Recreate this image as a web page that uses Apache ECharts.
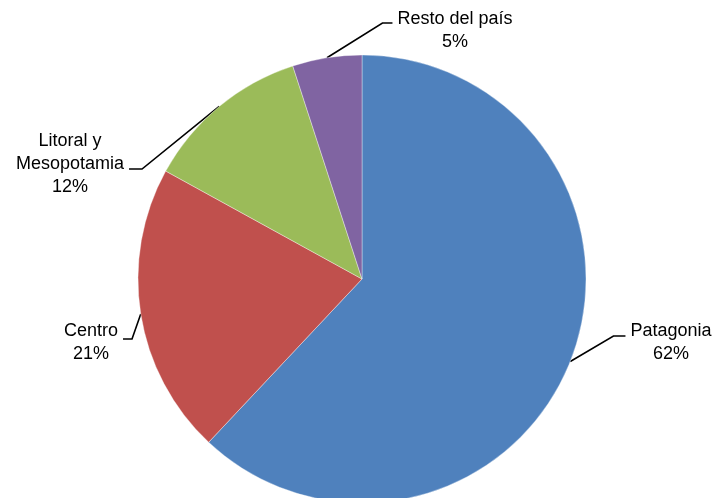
<!DOCTYPE html>
<html><head><meta charset="utf-8">
<script src="https://cdn.jsdelivr.net/npm/echarts@6/dist/echarts.min.js"></script>
<style>html,body{margin:0;padding:0;background:#fff}#c{width:717px;height:498px}</style>
</head><body><div id="c"></div>
<script>
const categories = ['Patagonia', 'Centro', 'Litoral y\nMesopotamia', 'Resto del país'];
const values = [62, 21, 12, 5];
const colors = ['#4F81BD', '#C0504D', '#9BBB59', '#8064A2'];
// label layout only: text centre, leader-line attach y, side of label the line meets (1 = left edge, -1 = right edge), horizontal tail length
const labelCenter = [[671, 343], [91, 343], [70, 164], [455, 31]];
const lineAttachY = [336, 339, 169, 23];
const lineSide = [1, -1, -1, 1];
const lineTail = [12, 9, 13, 10];
const lineGap = 5;

const chart = echarts.init(document.getElementById('c'), null, {renderer: 'canvas'});
chart.setOption({
  animation: false,
  series: [{
    type: 'pie',
    center: [362, 279],
    radius: 224,
    startAngle: 90,
    clockwise: true,
    data: categories.map((n, i) => ({name: n, value: values[i], itemStyle: {color: colors[i]}})),
    itemStyle: {borderColor: 'rgba(255,255,255,0.6)', borderWidth: 0.6},
    label: {
      show: true,
      position: 'outside',
      formatter: p => p.name + '\n' + p.value + '%',
      fontFamily: 'Liberation Sans, Arial, sans-serif',
      fontSize: 18,
      lineHeight: 23,
      color: '#000',
      align: 'center'
    },
    labelLine: {show: true, length: 30, length2: 12, lineStyle: {color: '#000', width: 1.6}},
    labelLayout: function (params) {
      const i = params.dataIndex;
      const c = labelCenter[i];
      const w = params.labelRect.width;
      const anchor = params.labelLinePoints ? params.labelLinePoints[0] : null;
      const s = lineSide[i];
      const endX = c[0] - s * (w / 2 + lineGap);
      const turnX = endX - s * lineTail[i];
      const out = {x: c[0], y: c[1], align: 'center', verticalAlign: 'middle'};
      if (anchor) {
        out.labelLinePoints = [[anchor[0], anchor[1]], [turnX, lineAttachY[i]], [endX, lineAttachY[i]]];
      }
      return out;
    }
  }]
});
</script></body></html>
